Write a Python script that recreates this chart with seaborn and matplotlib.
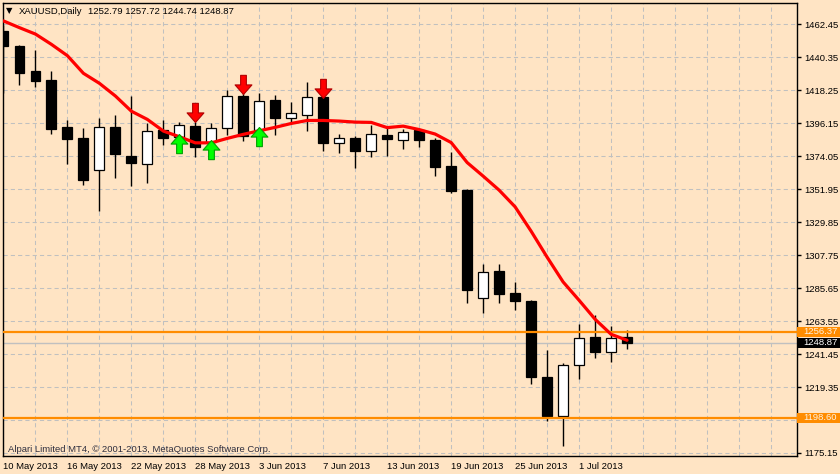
import matplotlib
matplotlib.use("Agg")
import matplotlib.pyplot as plt
import matplotlib.transforms as mtransforms
from matplotlib.path import Path
from matplotlib.markers import MarkerStyle
from matplotlib.patches import Rectangle
import numpy as np
import pandas as pd
import seaborn as sns

# ---------------- data ----------------
opens = [1457.96, 1447.9, 1431.1, 1425.1, 1393.6, 1386.2, 1364.5, 1393.6, 1374.1, 1368.5,
         1391.6, 1387.1, 1394.2, 1383.7, 1392.7, 1414.4, 1391.6, 1411.7, 1399.4, 1401.4,
         1413.5, 1382.6, 1386.0, 1377.7, 1388.0, 1384.8, 1391.6, 1384.8, 1367.4, 1351.3,
         1278.7, 1296.8, 1282.2, 1277.3, 1225.9, 1200.0, 1234.4, 1252.7, 1242.5, 1252.79]
highs = [1462.0, 1448.6, 1445.2, 1431.1, 1398.3, 1392.9, 1399.6, 1401.6, 1414.4, 1396.0,
         1398.3, 1396.7, 1397.1, 1396.0, 1418.4, 1417.5, 1416.2, 1415.0, 1410.1, 1423.5,
         1416.4, 1388.9, 1387.5, 1394.9, 1394.4, 1392.2, 1392.6, 1386.0, 1377.0, 1351.8,
         1302.1, 1301.7, 1289.4, 1278.0, 1244.4, 1235.5, 1261.4, 1267.5, 1260.1, 1257.72]
lows = [1416.2, 1421.7, 1420.6, 1388.7, 1368.9, 1354.9, 1337.2, 1359.4, 1354.2, 1356.2,
        1381.5, 1384.0, 1373.2, 1378.0, 1388.2, 1384.4, 1383.5, 1388.2, 1396.0, 1390.9,
        1377.5, 1376.0, 1366.3, 1373.2, 1374.1, 1378.6, 1380.4, 1360.9, 1349.1, 1275.7,
        1269.0, 1275.7, 1270.8, 1221.2, 1196.6, 1179.8, 1224.5, 1239.1, 1236.1, 1244.74]
closes = [1448.1, 1430.0, 1424.6, 1392.4, 1385.7, 1358.2, 1393.4, 1375.6, 1369.6, 1390.9,
          1386.4, 1394.9, 1380.3, 1392.7, 1414.4, 1387.5, 1411.1, 1399.4, 1402.8, 1413.5,
          1382.6, 1386.0, 1377.7, 1388.9, 1385.7, 1390.0, 1384.8, 1366.9, 1350.8, 1284.5,
          1296.1, 1281.8, 1277.1, 1226.1, 1200.0, 1234.0, 1251.9, 1242.9, 1252.5, 1248.87]
ma_values = [1464.7, 1460.2, 1455.9, 1449.0, 1441.4, 1429.6, 1422.9, 1414.4, 1404.2, 1398.7,
             1390.9, 1387.1, 1383.0, 1383.0, 1386.0, 1388.7, 1391.1, 1393.4, 1396.0, 1398.0,
             1398.0, 1397.6, 1396.9, 1396.7, 1393.2, 1394.2, 1391.9, 1388.9, 1383.2, 1369.8,
             1360.7, 1351.3, 1340.1, 1323.8, 1306.4, 1289.8, 1277.5, 1264.8, 1254.7, 1250.7]

date_tick_idx = [0, 4, 8, 12, 16, 20, 24, 28, 32, 36]
date_labels = ["10 May 2013", "16 May 2013", "22 May 2013", "28 May 2013", "3 Jun 2013",
               "7 Jun 2013", "13 Jun 2013", "19 Jun 2013", "25 Jun 2013", "1 Jul 2013"]
price_ticks = [1175.15, 1197.25, 1219.35, 1241.45, 1263.55, 1285.65, 1307.75, 1329.85,
               1351.95, 1374.05, 1396.15, 1418.25, 1440.35, 1462.45]
price_tick_labels = ["", "", "1219.35", "1241.45", "1263.55", "1285.65", "1307.75", "1329.85",
                     "1351.95", "1374.05", "1396.15", "1418.25", "1440.35", "1462.45"]
price_tick_labels[0] = "1175.15"

sell_idx = [12, 15, 20]
sell_price = [1397.1, 1415.9, 1412.8]
buy_idx = [11, 13, 16]
buy_price = [1388.7, 1384.8, 1393.8]

level_lines = [1256.37, 1198.60]
bid_price = 1248.87
title_symbol = "XAUUSD,Daily"
title_ohlc = "1252.79 1257.72 1244.74 1248.87"
copyright_text = "Alpari Limited MT4, \u00a9 2001-2013, MetaQuotes Software Corp."

# ---------------- style ----------------
BG = "#FFE4C4"
sns.set_theme(style="white")
plt.rcParams["font.family"] = ["Liberation Sans", "DejaVu Sans"]
plt.rcParams["font.size"] = 6.8

W, H = 840, 474
fig = plt.figure(figsize=(W / 100, H / 100), dpi=100)
fig.patch.set_facecolor(BG)
ax_left, ax_right, ax_top, ax_bot = 3, 797, 3, 456
ax = fig.add_axes([ax_left / W, (H - ax_bot) / H, (ax_right - ax_left) / W, (ax_bot - ax_top) / H])
ax.set_facecolor(BG)

df = pd.DataFrame({"idx": np.arange(len(opens)), "open": opens, "high": highs,
                   "low": lows, "close": closes, "ma": ma_values})

# wicks
ax.vlines(df["idx"], df["low"], df["high"], color="black", linewidth=1.0, zorder=2)
# bodies
bull = df["close"] >= df["open"]
body_bottom = np.minimum(df["open"], df["close"])
body_height = np.abs(df["close"] - df["open"])
ax.bar(df["idx"], body_height, bottom=body_bottom, width=0.62,
       color=np.where(bull, "white", "black"), edgecolor="black", linewidth=0.9, zorder=3)

# bid line (behind candles) and level lines (above)
ax.axhline(bid_price, color="#C0C0C0", linewidth=1.0, zorder=1.5)
for lv in level_lines:
    ax.axhline(lv, color="#FF8C00", linewidth=1.6, zorder=4)

# moving average
sns.lineplot(data=df, x="idx", y="ma", color="#FF0000", linewidth=2.3, ax=ax,
             zorder=5, legend=False)

# arrows
down_verts = [(0, 0), (0.44, 0.5), (0.15, 0.5), (0.15, 1.0), (-0.15, 1.0),
              (-0.15, 0.5), (-0.44, 0.5), (0, 0)]
codes = [Path.MOVETO] + [Path.LINETO] * 6 + [Path.CLOSEPOLY]
down_marker = MarkerStyle(Path(down_verts, codes))
up_marker = MarkerStyle(Path([(x, -y) for x, y in down_verts], codes))
ax.scatter(sell_idx, sell_price, marker=down_marker, s=760, c="#FF0000",
           edgecolors="#B00000", linewidths=0.8, zorder=7)
ax.scatter(buy_idx, buy_price, marker=up_marker, s=760, c="#00FF00",
           edgecolors="#00A000", linewidths=0.8, zorder=7)

# axes limits
ax.set_xlim(-0.03, 49.63)
ax.set_ylim(1173.11, 1476.73)

# ticks
ax.set_xticks(date_tick_idx)
ax.set_xticklabels(date_labels, ha="left")
minor = [i for i in range(0, 50, 2) if i not in date_tick_idx]
ax.set_xticks(minor, minor=True)
ax.tick_params(axis="x", which="major", direction="out", length=3, width=1,
               color="black", pad=1.5, labelsize=6.8, labelcolor="black")
ax.tick_params(axis="x", which="minor", length=0)
ax.yaxis.tick_right()
ax.set_yticks(price_ticks)
ax.set_yticklabels(price_tick_labels)
ax.tick_params(axis="y", direction="out", length=3, width=1, color="black",
               pad=2, labelsize=6.8, labelcolor="black", left=False, right=True)
for lbl in ax.get_xticklabels():
    lbl.set_horizontalalignment("left")
ax.grid(True, which="both", color="#C0C0C0", linestyle=(0, (4, 3)), linewidth=0.75)
ax.set_axisbelow(True)
ax.set_xlabel("")
ax.set_ylabel("")
for sp in ax.spines.values():
    sp.set_visible(True)
    sp.set_color("black")
    sp.set_linewidth(1.0)

# price labels with boxes on the right axis
trans = mtransforms.blended_transform_factory(ax.transAxes, ax.transData)
box_w = (W - ax_right) / (ax_right - ax_left)
box_h = 10 / 1.492
text_x = 1 + 6 / (ax_right - ax_left)
for lv in level_lines:
    ax.add_patch(Rectangle((1.0, lv - box_h / 2), box_w, box_h, transform=trans,
                           facecolor="#FF8C00", edgecolor="none", clip_on=False, zorder=10))
    ax.text(text_x, lv, f"{lv:.2f}", transform=trans, ha="left", va="center",
            color="#FFF3E0", fontsize=6.8, clip_on=False, zorder=11)
ax.add_patch(Rectangle((1.0, bid_price - box_h / 2), box_w, box_h, transform=trans,
                       facecolor="black", edgecolor="none", clip_on=False, zorder=10))
ax.text(text_x, bid_price, f"{bid_price:.2f}", transform=trans, ha="left", va="center",
        color="white", fontsize=6.8, clip_on=False, zorder=11)

# header and footer text
fig.text(9.5 / W, 1 - 11 / H, "\u25bc", ha="center", va="center", fontsize=6,
         color="black", family=["DejaVu Sans"])
fig.text(18.3 / W, 1 - 11 / H, title_symbol, ha="left", va="center", fontsize=6.8, color="black")
fig.text(88.3 / W, 1 - 11 / H, title_ohlc, ha="left", va="center", fontsize=6.8, color="black")
fig.text(7.5 / W, 1 - 449 / H, copyright_text, ha="left", va="center", fontsize=6.8,
         color="#2E2E3E")

fig.savefig("out.png", dpi=100, facecolor=BG)
